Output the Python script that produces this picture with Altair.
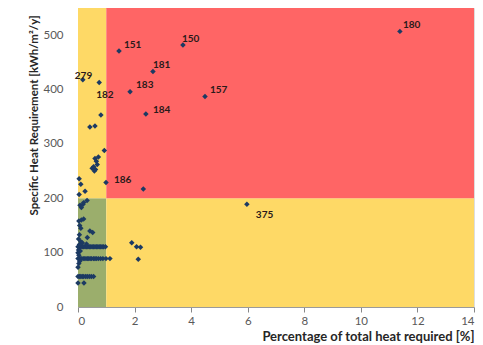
import altair as alt
import pandas as pd

# Zone boundaries (background quadrants)
zone_x0 = [0, 0, 1, 1]
zone_x1 = [1, 1, 14, 14]
zone_y0 = [0, 200, 0, 200]
zone_y1 = [200, 550, 200, 550]
zone_name = ["green", "yellow_a", "yellow_b", "red"]
zone_colors = {"green": "#9BAE6C", "yellow_a": "#FED966", "yellow_b": "#FED966", "red": "#FF6565"}

# Unlabelled points: percentage of total heat (x), specific heat requirement (y)
pt_x = [
    # upper-left yellow
    0.04, 0.10, 0.04, 0.25, 0.42, 0.60, 0.81, 0.93, 0.60, 0.72, 0.65, 0.68, 0.50, 0.62, 0.55, 0.58,
    # red unlabelled
    2.31,
    # yellow right, low
    1.90, 2.07, 2.21, 2.13,
    # green: upper part
    0.07, 0.18, 0.32, 0.12, 0.20,
    0.03, 0.12, 0.20, 0.06, 0.10, 0.42, 0.52, 0.33, 0.05, 0.02, 0.10, 0.15,
    # row ~111
    0.00, 0.03, 0.06, 0.10, 0.15, 0.20, 0.25, 0.30, 0.35, 0.40, 0.45, 0.50, 0.55, 0.60,
    0.65, 0.70, 0.75, 0.80, 0.85, 0.90, 0.97,
    0.02, 0.05, 0.00, 0.03, 0.08, 0.30,
    # row ~89
    0.00, 0.04, 0.08, 0.12, 0.18, 0.22, 0.28, 0.33, 0.38, 0.43, 0.48, 0.55, 0.60, 0.65,
    0.72, 0.80, 0.88, 0.99, 1.13,
    0.03, 0.06, 0.00,
    # row ~56 and below
    0.00, 0.05, 0.10, 0.15, 0.20, 0.27, 0.33, 0.40, 0.47, 0.55,
    0.00, 0.21,
]
pt_y = [
    236, 226, 207, 213, 331, 333, 353, 288, 273, 276, 268, 262, 255, 253, 258, 250,
    217,
    118, 111, 110, 88,
    187, 189, 196, 183, 192,
    158, 160, 162, 150, 145, 140, 137, 128, 133, 125, 120, 118,
    111, 111, 111, 111, 111, 111, 111, 111, 111, 111, 111, 111, 111, 111,
    111, 111, 111, 111, 111, 111, 111,
    105, 115, 100, 95, 103, 116,
    89, 89, 89, 89, 89, 89, 89, 89, 89, 89, 89, 89, 89, 89,
    89, 89, 89, 89, 89,
    80, 84, 73,
    56, 56, 56, 56, 56, 56, 56, 56, 56, 56,
    44, 44,
]

# Labelled points
lab_x = [1.45, 3.71, 2.65, 1.84, 4.49, 2.40, 11.38, 0.17, 0.75, 0.99, 5.97]
lab_y = [471, 482, 433, 396, 387, 355, 507, 418, 413, 229, 189]
lab_text = ["151", "150", "181", "183", "157", "184", "180", "279", "182", "186", "375"]

# Label offsets in pixels (style, not data)
label_offsets = {
    "151": (5, -6), "150": (-1, -6), "181": (0, -7), "183": (6, -7), "157": (5, -7),
    "184": (7, -4), "180": (3, -6), "279": (-8, -4), "182": (-3, 13), "186": (8, -3),
    "375": (9, 11),
}

zones = pd.DataFrame({"x0": zone_x0, "x1": zone_x1, "y0": zone_y0, "y1": zone_y1, "zone": zone_name})
pts = pd.DataFrame({"x": pt_x + lab_x, "y": pt_y + lab_y})
labs = pd.DataFrame({"x": lab_x, "y": lab_y, "label": lab_text})

FONT = "Lato"
xscale = alt.Scale(domain=[0, 14], nice=False, zero=True)
yscale = alt.Scale(domain=[0, 550], nice=False)

xaxis = alt.Axis(
    values=[0, 2, 4, 6, 8, 10, 12, 14], grid=False, tickSize=5, tickColor="#888888",
    domainColor="#9A9A9A", labelColor="#595959", labelFontSize=11.5, labelFont=FONT,
    labelPadding=3, title="Percentage of total heat required  [%]", titleFont=FONT,
    titleFontSize=13, titleFontWeight="bold", titleColor="#262626",
    titleAnchor="end", titleAlign="right", titleX=396, titleY=29, titleBaseline="middle",
)
yaxis = alt.Axis(
    values=[0, 100, 200, 300, 400, 500], grid=False, ticks=False, domainColor="#9A9A9A",
    labelColor="#595959", labelFontSize=11.5, labelFont=FONT, labelPadding=15,
    title="Specific Heat Requirement [kWh/m²/y]", titleFont=FONT, titleFontSize=11.5,
    titleFontWeight="bold", titleColor="#262626", titleAngle=270, titleAlign="right",
    titleBaseline="middle", titleX=-44, titleY=7,
)

bg = alt.Chart(zones).mark_rect().encode(
    x=alt.X("x0:Q", scale=xscale, axis=xaxis),
    x2="x1:Q",
    y=alt.Y("y0:Q", scale=yscale, axis=yaxis),
    y2="y1:Q",
    color=alt.Color("zone:N", scale=alt.Scale(domain=list(zone_colors.keys()),
                                              range=list(zone_colors.values())), legend=None),
)

points = alt.Chart(pts).mark_point(shape="diamond", filled=True, size=30, color="#1C3A63", opacity=1).encode(
    x=alt.X("x:Q", scale=xscale),
    y=alt.Y("y:Q", scale=yscale),
)

text_layers = []
for lab in lab_text:
    dx, dy = label_offsets[lab]
    t = alt.Chart(labs).transform_filter(alt.datum.label == lab).mark_text(
        align="left", baseline="middle", dx=dx, dy=dy, font=FONT, fontSize=10,
        fontWeight="bold", color="#2A1A1A",
    ).encode(x=alt.X("x:Q", scale=xscale), y=alt.Y("y:Q", scale=yscale), text="label:N")
    text_layers.append(t)

chart = alt.layer(bg, points, *text_layers).properties(
    width=396, height=299,
    autosize=alt.AutoSizeParams(type="none"),
    padding={"left": 70, "top": 0, "right": 1, "bottom": 36},
).configure_view(strokeWidth=0).configure(background="white")

chart.save("out.html", embed_options={"renderer": "svg", "actions": False})
